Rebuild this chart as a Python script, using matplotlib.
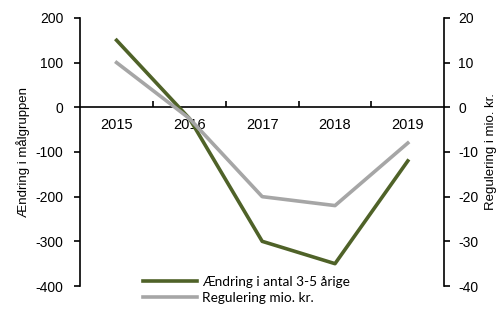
import matplotlib
matplotlib.use("Agg")
import matplotlib.pyplot as plt
import numpy as np

years = ["2015", "2016", "2017", "2018", "2019"]
aendring = [150, -25, -300, -350, -120]
regulering = [10, -2.5, -20, -22, -8]

green = "#4F6228"
gray = "#A6A6A6"
plt.rcParams['font.family'] = ['Liberation Sans', 'DejaVu Sans']
plt.rcParams['axes.unicode_minus'] = False

fig = plt.figure(figsize=(4.98, 3.09), dpi=100)
ax = fig.add_axes([0.161, 0.0744, 0.731, 0.8676])
ax2 = ax.twinx()

x = np.arange(len(years))
l1, = ax.plot(x, aendring, color=green, lw=2.6, label="Ændring i antal 3-5 årige", zorder=3)
l2, = ax2.plot(x, regulering, color=gray, lw=2.6, label="Regulering mio. kr.", zorder=3)

ax.set_xlim(-0.5, 4.5)
ax.set_ylim(-400, 200)
ax2.set_ylim(-40, 20)
ax.set_yticks(np.arange(-400, 201, 100))
ax2.set_yticks(np.arange(-40, 21, 10))

ax.spines['bottom'].set_position(('data', 0))
for s in ['top', 'right']:
    ax.spines[s].set_visible(False)
for s in ['top', 'left', 'bottom']:
    ax2.spines[s].set_visible(False)
for a in (ax, ax2):
    for s in a.spines.values():
        s.set_linewidth(1.2)

ax.set_xticks(x)
ax.set_xticklabels(years)
ax.set_xticks(np.arange(0.5, 4.5, 1), minor=True)
ax.tick_params(axis='x', which='major', length=0, labelsize=10.5, pad=8)
ax.tick_params(axis='x', which='minor', length=4, width=1.2, direction='in')
ax.tick_params(axis='y', length=4, width=1.2, direction='out', labelsize=10, pad=8)
ax2.tick_params(axis='y', length=4, width=1.2, direction='out', labelsize=10, pad=6)

ax.set_ylabel("Ændring i målgruppen", fontsize=9.5, labelpad=4)
ax2.set_ylabel("Regulering i mio. kr.", fontsize=9.5, labelpad=5)

leg = fig.legend(handles=[l1, l2], loc='center left', bbox_to_anchor=(0.287, 0.061),
                 frameon=False, handlelength=4.0, handletextpad=0.35,
                 labelspacing=0.3, borderpad=0, borderaxespad=0,
                 prop={'family': ['Lato', 'DejaVu Sans'], 'size': 9.8})

fig.savefig("out.png", dpi=100)
